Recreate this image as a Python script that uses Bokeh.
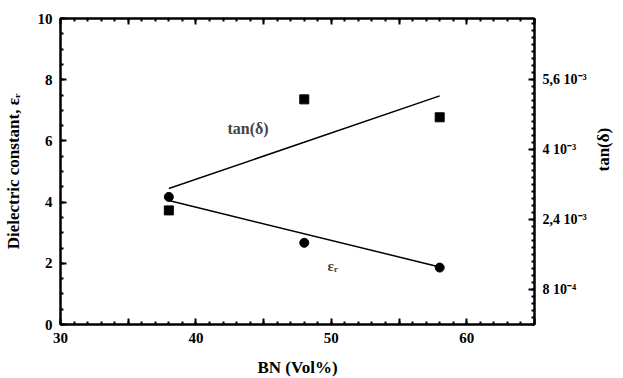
import math
from bokeh.plotting import figure
from bokeh.models import LinearAxis, Range1d, FixedTicker, Label, CustomLabelingPolicy
from bokeh.embed import file_html
from bokeh.resources import INLINE

# Data
bn = [38, 48, 58]
eps_r = [4.17, 2.67, 1.86]
tan_d = [0.00261, 0.00515, 0.00474]

eps_fit_x = [38, 58]
eps_fit_y = [4.05, 1.88]
tan_fit_x = [38, 58]
tan_fit_y = [0.00311, 0.00523]

x_ticks = [30, 35, 40, 45, 50, 55, 60, 65]
y_ticks = [0, 2, 4, 6, 8, 10]
r_ticks = [0.0008, 0.0024, 0.004, 0.0056]
r_tick_labels = {0.0008: "8 10⁻⁴", 0.0024: "2,4 10⁻³", 0.004: "4 10⁻³", 0.0056: "5,6 10⁻³"}

FONT = "Liberation Serif"

p = figure(frame_width=474, frame_height=306, x_range=Range1d(30, 65), y_range=Range1d(0, 10),
           output_backend="svg", toolbar_location=None,
           min_border_left=59, min_border_top=18, min_border_right=70, min_border_bottom=40)
p.extra_y_ranges = {"tan": Range1d(0, 0.007)}
p.grid.visible = False
p.outline_line_color = "black"
p.outline_line_width = 2
p.background_fill_color = "white"
p.border_fill_color = "white"


def style_axis(ax, label_size="15px"):
    ax.axis_line_width = 2
    ax.axis_line_color = "black"
    ax.major_tick_in = 6
    ax.major_tick_out = 0
    ax.minor_tick_in = 3
    ax.minor_tick_out = 0
    ax.major_tick_line_width = 2
    ax.minor_tick_line_width = 2
    ax.major_tick_line_color = "black"
    ax.minor_tick_line_color = "black"
    ax.major_label_text_font = FONT
    ax.major_label_text_font_style = "bold"
    ax.major_label_text_font_size = label_size
    ax.major_label_text_color = "black"
    ax.axis_label_text_font = FONT
    ax.axis_label_text_font_style = "bold"
    ax.axis_label_text_font_size = "17px"
    ax.axis_label_text_color = "black"


hide_odd = CustomLabelingPolicy(code="for (const i of indices) { if (i % 2 == 1) indices.unset(i) } return indices")
hide_all = CustomLabelingPolicy(code="for (const i of indices) { indices.unset(i) } return indices")

xa = p.xaxis[0]
xa.ticker = FixedTicker(ticks=x_ticks, minor_ticks=list(range(30, 66)))
xa.major_label_policy = hide_odd
xa.axis_label = "BN (Vol%)"
style_axis(xa)
xa.major_label_standoff = 8
xa.axis_label_standoff = 12

ya = p.yaxis[0]
ya.ticker = FixedTicker(ticks=y_ticks, minor_ticks=[i * 0.5 for i in range(21)])
ya.axis_label = "Dielectric constant, εᵣ"
style_axis(ya)
ya.major_label_standoff = 8
ya.axis_label_standoff = 12

top = LinearAxis(ticker=FixedTicker(ticks=x_ticks, minor_ticks=list(range(30, 66))))
style_axis(top)
top.major_label_policy = hide_all
top.major_label_standoff = 0
p.add_layout(top, "above")

ra = LinearAxis(y_range_name="tan",
                ticker=FixedTicker(ticks=r_ticks, minor_ticks=[i * 0.00016 for i in range(-5, 50)]))
style_axis(ra, "14px")
ra.major_label_overrides = r_tick_labels
ra.axis_label = "tan(δ)"
ra.major_label_standoff = 8
ra.axis_label_standoff = 14
if "axis_label_orientation" in ra.properties():
    ra.axis_label_orientation = math.pi / 2
p.add_layout(ra, "right")

p.line(eps_fit_x, eps_fit_y, line_color="black", line_width=1.5)
p.line(tan_fit_x, tan_fit_y, line_color="black", line_width=1.5, y_range_name="tan")
p.scatter(bn, eps_r, marker="circle", size=9, color="black")
p.scatter(bn, tan_d, marker="square", size=9, color="black", y_range_name="tan")

p.add_layout(Label(x=43.85, y=6.4, text="tan(δ)", text_font=FONT, text_font_style="bold",
                   text_font_size="16px", text_align="center", text_baseline="middle"))
p.add_layout(Label(x=50.1, y=1.9, text="εᵣ", text_font=FONT, text_font_style="bold",
                   text_font_size="15px", text_align="center", text_baseline="middle"))

open("out.html", "w").write(file_html(p, INLINE))
